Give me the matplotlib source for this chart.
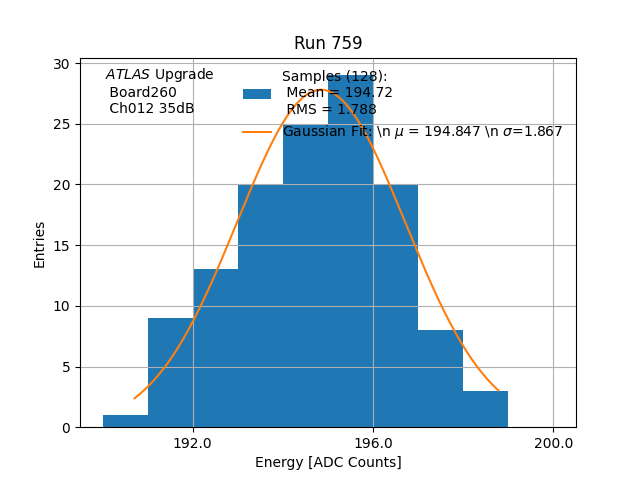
import numpy as np
import matplotlib
matplotlib.use("Agg")
import matplotlib.pyplot as plt

# histogram of the ADC samples
bin_edges = [190, 191, 192, 193, 194, 195, 196, 197, 198, 199, 200]
counts = [1, 9, 13, 20, 25, 29, 20, 8, 3, 0]

# gaussian fit result
fit_mu = 194.847
fit_sigma = 1.867
fit_amp = 27.8
fit_range = (190.71, 198.78)

x_ticks = [192.0, 196.0, 200.0]

fig, ax = plt.subplots(figsize=(6.4, 4.8), dpi=100)

centers = [(a + b) / 2 for a, b in zip(bin_edges[:-1], bin_edges[1:])]
ax.hist(centers, bins=bin_edges, weights=counts,
        label="Samples (128):\n Mean = 194.72\n RMS = 1.788")

xs = np.linspace(fit_range[0], fit_range[1], 200)
ax.plot(xs, fit_amp * np.exp(-0.5 * ((xs - fit_mu) / fit_sigma) ** 2),
        label=r"Gaussian Fit: \n $\mu$ = 194.847 \n $\sigma$=1.867")

ax.set_xticks(x_ticks)
ax.set_xticklabels(["%.1f" % t for t in x_ticks])
ax.grid(True)
ax.set_title("Run 759")
ax.set_xlabel("Energy [ADC Counts]")
ax.set_ylabel("Entries")
ax.text(0.05, 0.978, "$\\it{ATLAS}$ Upgrade\n Board260\n Ch012 35dB",
        transform=ax.transAxes, va="top", ha="left")
ax.legend(loc="upper right", frameon=False)

fig.savefig("out.png")
